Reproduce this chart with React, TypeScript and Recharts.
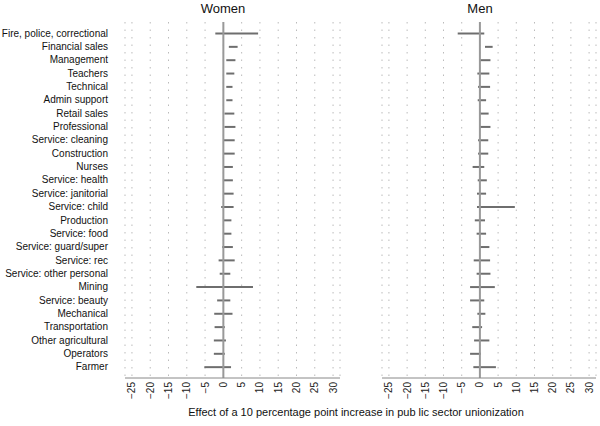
import React from "react";
import {
  ComposedChart,
  Bar,
  XAxis,
  YAxis,
  CartesianGrid,
  ReferenceLine,
} from "recharts";

const categories = [
  "Fire, police, correctional",
  "Financial sales",
  "Management",
  "Teachers",
  "Technical",
  "Admin support",
  "Retail sales",
  "Professional",
  "Service: cleaning",
  "Construction",
  "Nurses",
  "Service: health",
  "Service: janitorial",
  "Service: child",
  "Production",
  "Service: food",
  "Service: guard/super",
  "Service: rec",
  "Service: other personal",
  "Mining",
  "Service: beauty",
  "Mechanical",
  "Transportation",
  "Other agricultural",
  "Operators",
  "Farmer",
];

const womenLow = [
  -2.2, 1.5, 0.8, 0.8, 0.8, 0.8, 0.3, 0.3, 0, 0, 0, 0, 0, -0.6, 0, 0, -0.3,
  -1.3, -1, -7.4, -1.7, -2.5, -2.4, -2.6, -2.6, -5.2,
];
const womenHigh = [
  9.5, 3.9, 3.3, 3.0, 2.5, 2.5, 3.0, 3.3, 3.1, 3.1, 2.6, 2.6, 2.8, 2.8, 2.2,
  2.2, 2.6, 3.1, 1.9, 8.1, 1.9, 2.5, 0.4, 0.7, 0.4, 2.1,
];
const menLow = [
  -6.1, 1.4, 0, -0.7, -0.5, -0.6, -0.2, 0, -0.5, -0.5, -2.0, -0.6, -0.8, -0.8,
  -1.4, -0.9, 0, -1.7, -0.9, -2.7, -2.7, -0.7, -2.1, -1.6, -2.7, -1.8,
];
const menHigh = [
  1.2, 3.5, 2.9, 2.6, 2.8, 1.7, 2.4, 2.9, 2.3, 2.3, 1.2, 1.9, 1.7, 9.6, 1.4,
  1.7, 2.6, 2.8, 2.9, 4.1, 1.2, 1.5, 0.6, 2.6, 0.3, 4.4,
];

const xTicks = [-25, -20, -15, -10, -5, 0, 5, 10, 15, 20, 25, 30];

const data = categories.map((name, i) => ({
  name,
  women: [womenLow[i], womenHigh[i]],
  men: [menLow[i], menHigh[i]],
}));

const FONT = "'Liberation Sans', Arial, sans-serif";

function RotatedTick(props: any) {
  const { x, y, payload } = props;
  const v = payload.value as number;
  const label = v < 0 ? `\u2212${Math.abs(v)}` : String(v);
  return (
    <text
      x={x}
      y={y}
      transform={`rotate(-90, ${x}, ${y})`}
      textAnchor="end"
      dominantBaseline="central"
      fontSize={10}
      fill="#222"
      fontFamily={FONT}
    >
      {label}
    </text>
  );
}

function CategoryTick(props: any) {
  const { x, y, payload } = props;
  return (
    <text
      x={x}
      y={y}
      textAnchor="end"
      dominantBaseline="central"
      fontSize={10}
      fill="#111"
      fontFamily={FONT}
    >
      {payload.value}
    </text>
  );
}

function Panel({
  dataKey,
  width,
  margin,
  showLabels,
}: {
  dataKey: string;
  width: number;
  margin: { top: number; right: number; bottom: number; left: number };
  showLabels: boolean;
}) {
  return (
    <ComposedChart
      layout="vertical"
      width={width}
      height={426}
      data={data}
      margin={margin}
    >
      <CartesianGrid
        horizontal={false}
        vertical
        strokeDasharray="1.5 6"
        stroke="#bbb"
      />
      <XAxis
        type="number"
        domain={[-26.9, 31.9]}
        ticks={xTicks}
        allowDataOverflow
        height={30}
        tickLine={false}
        tickSize={0}
        tickMargin={4}
        axisLine={{ stroke: "#888" }}
        tick={<RotatedTick />}
        interval={0}
      />
      <YAxis
        type="category"
        dataKey="name"
        width={125}
        hide={!showLabels}
        axisLine={false}
        tickLine={false}
        tickSize={15}
        tickMargin={2}
        interval={0}
        padding={{ top: 4.5, bottom: 4.5 }}
        tick={<CategoryTick />}
      />
      <ReferenceLine x={0} stroke="#999" strokeWidth={2} />
      <Bar
        dataKey={dataKey}
        fill="#6e6e6e"
        barSize={2}
        isAnimationActive={false}
      />
    </ComposedChart>
  );
}

export default function App() {
  return (
    <div
      style={{
        position: "absolute",
        left: 0,
        top: 0,
        width: 600,
        height: 426,
        background: "#fff",
        fontFamily: FONT,
      }}
    >
      <div style={{ position: "absolute", left: 0, top: 0 }}>
        <Panel
          dataKey="women"
          width={345}
          margin={{ top: 22, right: 5, bottom: 18, left: 0 }}
          showLabels
        />
      </div>
      <div style={{ position: "absolute", left: 380, top: 0 }}>
        <Panel
          dataKey="men"
          width={220}
          margin={{ top: 22, right: 4, bottom: 18, left: 2 }}
          showLabels={false}
        />
      </div>
      <div
        style={{
          position: "absolute",
          left: 173,
          width: 100,
          top: 1,
          textAlign: "center",
          fontSize: 13,
          color: "#111",
        }}
      >
        Women
      </div>
      <div
        style={{
          position: "absolute",
          left: 430,
          width: 100,
          top: 1,
          textAlign: "center",
          fontSize: 13,
          color: "#111",
        }}
      >
        Men
      </div>
      <div
        style={{
          position: "absolute",
          left: 106,
          width: 500,
          top: 406,
          textAlign: "center",
          fontSize: 11,
          color: "#111",
        }}
      >
        Effect of a 10 percentage point increase in pub lic sector unionization
      </div>
    </div>
  );
}
